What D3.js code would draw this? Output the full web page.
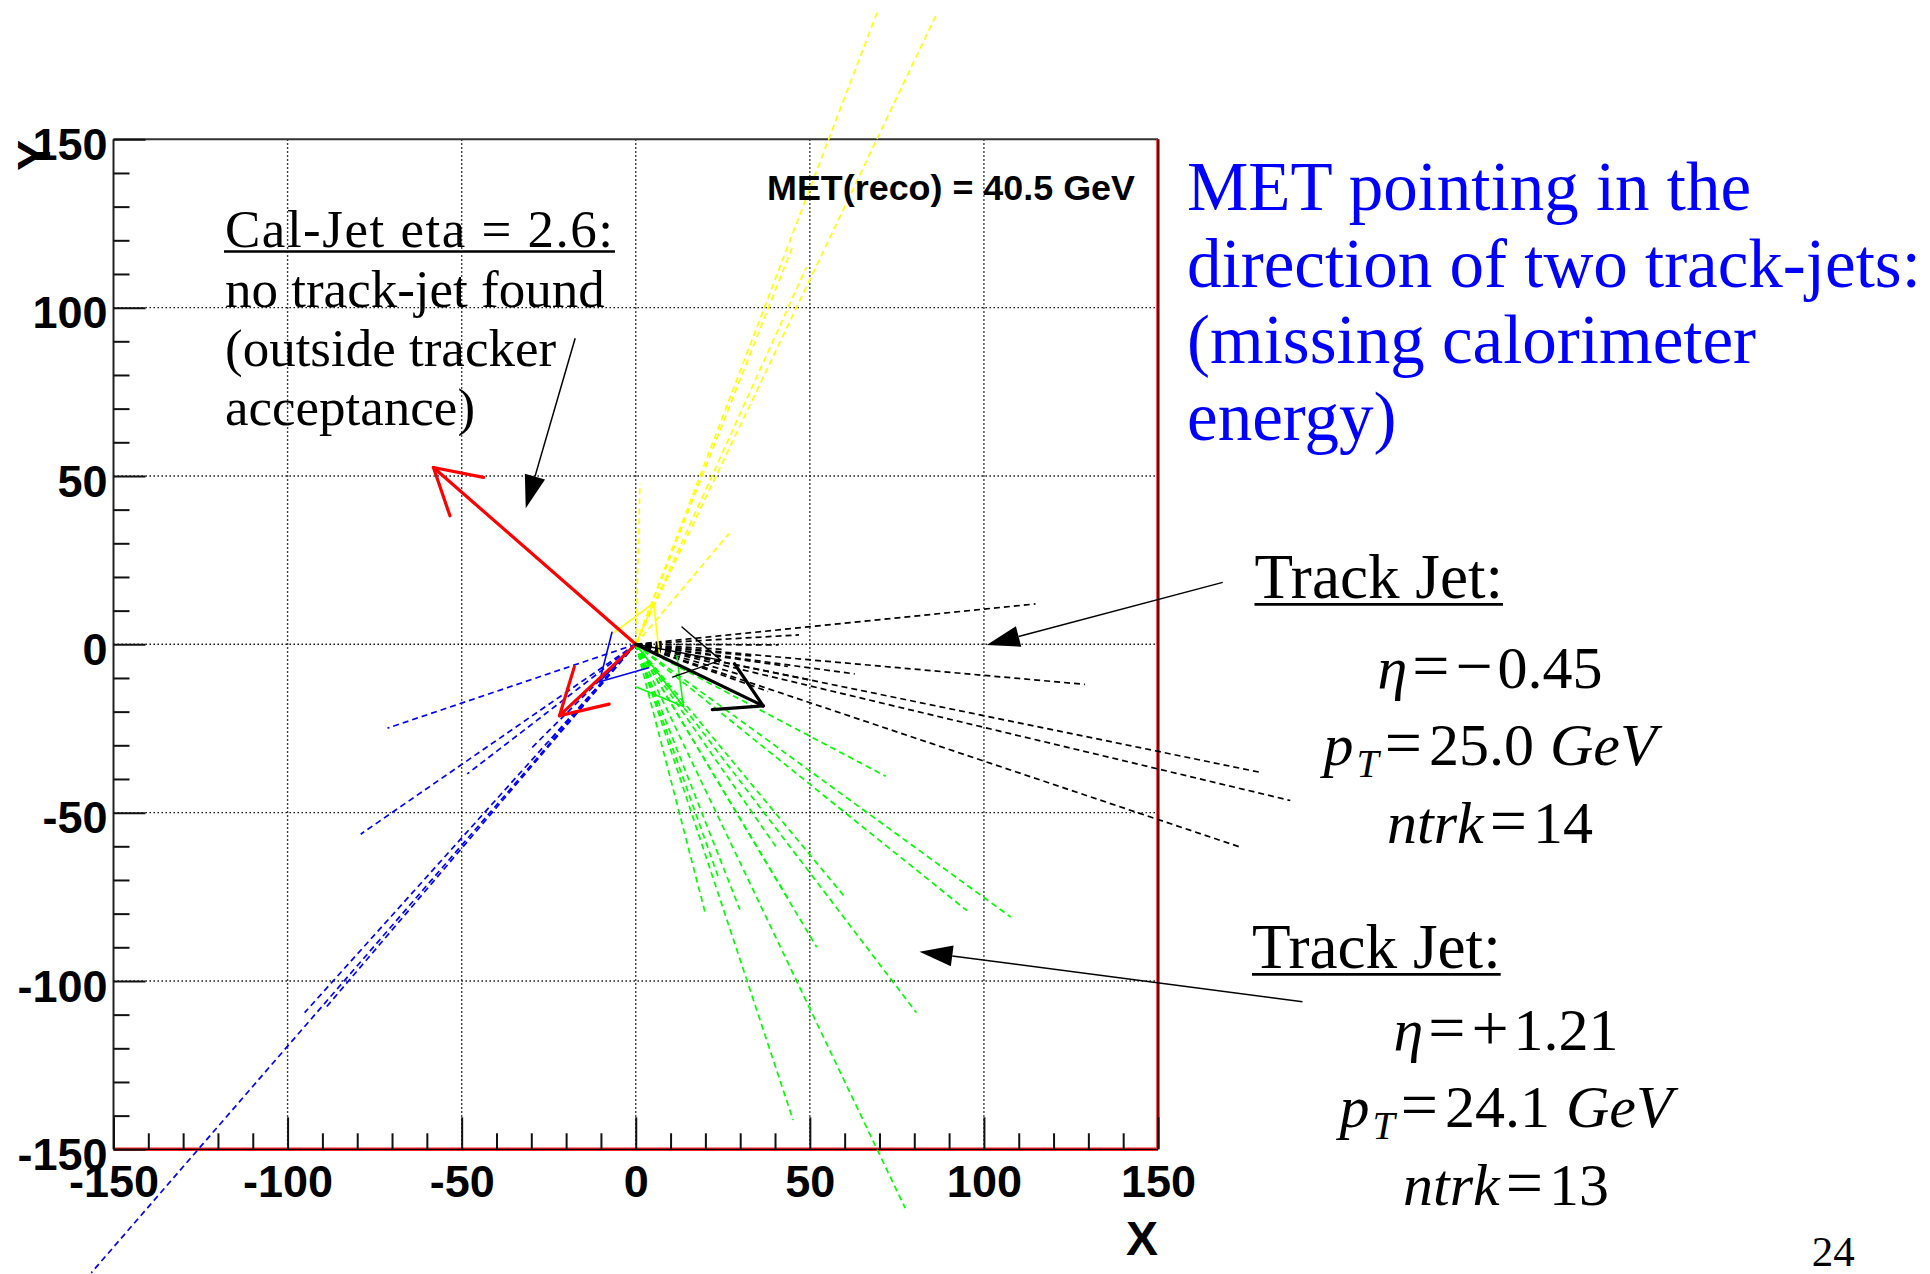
<!DOCTYPE html>
<html><head><meta charset="utf-8">
<script src="https://cdn.jsdelivr.net/npm/d3@7"></script>
<style>
html,body{margin:0;padding:0;background:#fff;}
svg{display:block;}
</style></head>
<body>
<svg id="c" width="1930" height="1274"></svg>
<script>
// ================= DATA =================
const xDomain = [-150, 150];
const yDomain = [-150, 150];
const majorTicks = [-150, -100, -50, 0, 50, 100, 150];
const gridValues = [-100, -50, 0, 50, 100];
const minorTicks = d3.range(-150, 151, 10).filter(v => v % 50 !== 0);

// track end points (x, y) from the vertex, per track-jet colour
const blackTracks = [[114.8,12.0],[129.0,-11.9],[179.7,-38.1],[188.0,-46.4],[174.1,-60.4],[62.9,-8.8],[46.9,2.8],[41.0,-0.2],[50.0,-10.6],[43.7,-6.6],[33.6,-3.5],[38.0,-14.0],[30.0,-9.0],[25.0,-1.5]];
const greenTracks = [[71.8,-39.2],[107.7,-81.0],[95.1,-79.1],[80.6,-109.4],[45.2,-141.3],[77.4,-167.5],[29.9,-78.8],[20.0,-80.0],[24.0,-70.0],[40.3,-60.2],[44.0,-76.0],[60.0,-75.0],[52.0,-90.0]];
const blueTracks = [[-71.3,-24.9],[-79.0,-56.4],[-156.4,-186.7],[-95.1,-109.4],[-89.5,-108.5],[-48.4,-38.5],[-30.6,-31.5],[-25.0,-29.0]];
const yellowTracks = [[69.3,187.6],[86.6,187.6],[45.0,118.0],[49.0,112.0],[26.7,32.8],[1.2,47.7]];

// jet / MET vectors (px, py)
const jetNames = ["trackJetYellow","trackJetBlue","trackJetGreen","trackJetBlack","calJet2","calJet1","MET"];
const jetPx = [5.1, -10.4, 13.7, 24.4, -21.9, -58.1, 36.6];
const jetPy = [12.2, -11.1, -18.5, -4.7, -21.2, 52.5, -18.3];

// annotation pointer arrows (from -> to), in plot units
const annoFrom = [[-17.4, 90.9], [168.6, 18.4], [191.5, -106.2]];
const annoTo   = [[-31.6, 40.4], [100.8, -0.2], [81.5, -91.3]];

const metLabel = "MET(reco) = 40.5 GeV";
const calJetLines = ["Cal-Jet eta = 2.6:", "no track-jet found", "(outside tracker", "acceptance)"];
const titleLines = ["MET pointing in the", "direction of two track-jets:", "(missing calorimeter", "energy)"];
const jet1 = {sign: "\u2212", eta: "0.45", pt: "25.0", ntrk: "14"};
const jet2 = {sign: "+", eta: "1.21", pt: "24.1", ntrk: "13"};
const pageNumber = "24";

// ================= STYLE =================
const trackColor = {black: "#000000", green: "#00ff00", blue: "#0000ff", yellow: "#ffff00"};
const jetStyle = {
  trackJetYellow: {c: "#ffff00", w: 1.6},
  trackJetBlue:   {c: "#0000ff", w: 1.6},
  trackJetGreen:  {c: "#00ff00", w: 1.6},
  trackJetBlack:  {c: "#000000", w: 1.4},
  calJet2:        {c: "#ff0000", w: 3.2},
  calJet1:        {c: "#ff0000", w: 3.2},
  MET:            {c: "#000000", w: 3.2}
};
const SANS = "'Liberation Sans', Arial, Helvetica, sans-serif";
const SERIF = "'Liberation Serif', 'Times New Roman', Times, serif";

// ================= CHART =================
const svg = d3.select("#c");
const x = d3.scaleLinear().domain(xDomain).range([113.5, 1158]);
const y = d3.scaleLinear().domain(yDomain).range([1149.3, 139.3]);

// grid
const grid = svg.append("g").attr("stroke", "#000").attr("stroke-width", 1.4).attr("stroke-dasharray", "1.4,2.6");
grid.selectAll("line.gv").data(gridValues).join("line").attr("class","gv")
  .attr("x1", d => x(d)).attr("x2", d => x(d)).attr("y1", y(150)).attr("y2", y(-150));
grid.selectAll("line.gh").data(gridValues).join("line").attr("class","gh")
  .attr("y1", d => y(d)).attr("y2", d => y(d)).attr("x1", x(-150)).attr("x2", x(150));

// frame
svg.append("line").attr("x1", x(-150)).attr("x2", x(150)).attr("y1", y(150)).attr("y2", y(150)).attr("stroke", "#333").attr("stroke-width", 2);
svg.append("line").attr("x1", x(-150)).attr("x2", x(-150)).attr("y1", y(150)).attr("y2", y(-150)).attr("stroke", "#222").attr("stroke-width", 2);
[[x(-150), y(-150), x(150), y(-150)], [x(150), y(150), x(150), y(-150)]].forEach(s => {
  svg.append("line").attr("x1", s[0]).attr("y1", s[1]).attr("x2", s[2]).attr("y2", s[3]).attr("stroke", "#ff2020").attr("stroke-width", 3.5);
  svg.append("line").attr("x1", s[0]).attr("y1", s[1]).attr("x2", s[2]).attr("y2", s[3]).attr("stroke", "#000").attr("stroke-width", 1.2);
});

// axes
function styleAxis(g) {
  g.select(".domain").remove();
  g.selectAll(".tick line").attr("stroke", "#111").attr("stroke-width", 2);
  g.attr("font-family", SANS).attr("font-size", 45).attr("font-weight", "bold");
  g.selectAll(".tick text").attr("fill", "#000");
}
const fmt = d => String(d);
svg.append("g").attr("transform", `translate(0,${y(-150)})`)
  .call(d3.axisBottom(x).tickValues(majorTicks).tickSize(-32).tickPadding(16).tickFormat(fmt))
  .call(styleAxis);
svg.append("g").attr("transform", `translate(0,${y(-150)})`)
  .call(d3.axisBottom(x).tickValues(minorTicks).tickSize(-16).tickFormat(""))
  .call(styleAxis);
const gy = svg.append("g").attr("transform", `translate(${x(-150)},0)`)
  .call(d3.axisLeft(y).tickValues(majorTicks).tickSize(-32).tickPadding(6).tickFormat(fmt))
  .call(styleAxis);
gy.selectAll(".tick text").attr("dy", "0.45em");
svg.append("g").attr("transform", `translate(${x(-150)},0)`)
  .call(d3.axisLeft(y).tickValues(minorTicks).tickSize(-16).tickFormat(""))
  .call(styleAxis);

// axis titles
svg.append("text").attr("x", x(150)).attr("y", 1255).attr("text-anchor", "end")
  .attr("font-family", SANS).attr("font-weight", "bold").attr("font-size", 48).text("X");
svg.append("text").attr("transform", `translate(50,140) rotate(-90)`).attr("text-anchor", "end")
  .attr("font-family", SANS).attr("font-weight", "bold").attr("font-size", 46).text("Y");

// tracks
function drawTracks(data, color) {
  svg.append("g").selectAll("line").data(data).join("line")
    .attr("x1", x(0)).attr("y1", y(0))
    .attr("x2", d => x(d[0])).attr("y2", d => y(d[1]))
    .attr("stroke", color).attr("stroke-width", 1.7).attr("stroke-dasharray", "6,4");
}
drawTracks(yellowTracks, trackColor.yellow);
drawTracks(blueTracks, trackColor.blue);
drawTracks(greenTracks, trackColor.green);
drawTracks(blackTracks, trackColor.black);

// jet arrows (open heads)
const headLen = 51, headAng = Math.PI / 6;
jetNames.forEach((name, i) => {
  const st = jetStyle[name];
  const x0 = x(0), y0 = y(0), x1 = x(jetPx[i]), y1 = y(jetPy[i]);
  const a = Math.atan2(y1 - y0, x1 - x0) + Math.PI;
  const g = svg.append("g").attr("stroke", st.c).attr("stroke-width", st.w).attr("stroke-linecap", "round");
  g.append("line").attr("x1", x0).attr("y1", y0).attr("x2", x1).attr("y2", y1);
  [-1, 1].forEach(s => {
    g.append("line").attr("x1", x1).attr("y1", y1)
      .attr("x2", x1 + headLen * Math.cos(a + s * headAng))
      .attr("y2", y1 + headLen * Math.sin(a + s * headAng));
  });
});

// MET label
svg.append("text").attr("x", 767).attr("y", 200).attr("font-family", SANS).attr("font-weight", "bold")
  .attr("font-size", 35).attr("fill", "#000").attr("textLength", 368).attr("lengthAdjust", "spacingAndGlyphs").text(metLabel);

// annotation pointer arrows (filled heads)
annoFrom.forEach((f, i) => {
  const t = annoTo[i];
  const xa = x(f[0]), ya = y(f[1]), xb = x(t[0]), yb = y(t[1]);
  const ang = Math.atan2(yb - ya, xb - xa);
  const L = 33, W = 10.5;
  const bx = xb - L * Math.cos(ang), by = yb - L * Math.sin(ang);
  svg.append("line").attr("x1", xa).attr("y1", ya).attr("x2", bx).attr("y2", by)
    .attr("stroke", "#000").attr("stroke-width", 1.5);
  const pts = [[xb, yb], [bx + W * Math.sin(ang), by - W * Math.cos(ang)], [bx - W * Math.sin(ang), by + W * Math.cos(ang)]];
  svg.append("polygon").attr("points", pts.map(p => p.join(",")).join(" ")).attr("fill", "#000");
});

// Cal-Jet annotation text
const calBase = [246.7, 306.7, 365.5, 425];
calJetLines.forEach((t, i) => {
  const tx = svg.append("text").attr("x", 225).attr("y", calBase[i]).attr("font-family", SERIF)
    .attr("font-size", 53).attr("fill", "#000").text(t);
  if (i === 0) tx.attr("textLength", 388).attr("lengthAdjust", "spacing");
});
svg.append("line").attr("x1", 224).attr("x2", 615).attr("y1", 251.5).attr("y2", 251.5).attr("stroke", "#000").attr("stroke-width", 2.6);

// blue title text
const titleBase = [210, 286.7, 363.3, 440];
titleLines.forEach((t, i) => {
  svg.append("text").attr("x", 1187).attr("y", titleBase[i]).attr("font-family", SERIF)
    .attr("font-size", 69).attr("fill", "#0000ff").text(t);
});

// Track-jet blocks
function trackJetBlock(hx, hBase, ulEnd, cx, bases, vals) {
  svg.append("text").attr("x", hx).attr("y", hBase).attr("font-family", SERIF).attr("font-size", 64)
    .attr("fill", "#000").attr("textLength", ulEnd - hx).attr("lengthAdjust", "spacingAndGlyphs").text("Track Jet:");
  svg.append("line").attr("x1", hx).attr("x2", ulEnd).attr("y1", hBase + 6).attr("y2", hBase + 6)
    .attr("stroke", "#000").attr("stroke-width", 2.8);
  const mk = yb => svg.append("text").attr("x", cx).attr("y", yb).attr("text-anchor", "middle")
    .attr("font-family", SERIF).attr("font-size", 60).attr("fill", "#000");
  const op = (t, s, dx) => t.append("tspan").attr("font-size", 66).attr("dx", dx).text(s);
  // eta line
  const t1 = mk(bases[0]);
  t1.append("tspan").attr("font-style", "italic").text("\u03b7");
  op(t1, "=", 5);
  op(t1, vals.sign, 6);
  t1.append("tspan").attr("dx", 5).text(vals.eta);
  // pT line
  const t2 = mk(bases[1]);
  t2.append("tspan").attr("font-style", "italic").text("p");
  t2.append("tspan").attr("font-style", "italic").attr("font-size", 40).attr("dx", 3).attr("dy", 12).text("T");
  op(t2, "=", 6).attr("dy", -12);
  t2.append("tspan").attr("dx", 7).text(vals.pt);
  t2.append("tspan").attr("font-style", "italic").attr("dx", 16).text("GeV");
  // ntrk line
  const t3 = mk(bases[2]);
  t3.append("tspan").attr("font-style", "italic").text("ntrk");
  op(t3, "=", 6);
  t3.append("tspan").attr("dx", 6).text(vals.ntrk);
}
trackJetBlock(1254.5, 598.3, 1503, 1490, [688.3, 765, 843.3], jet1);
trackJetBlock(1252, 968.3, 1500.7, 1506, [1050, 1126.7, 1205], jet2);

// page number
svg.append("text").attr("x", 1811.7).attr("y", 1266).attr("font-family", SERIF).attr("font-size", 43)
  .attr("fill", "#000").text(pageNumber);
</script>
</body></html>
